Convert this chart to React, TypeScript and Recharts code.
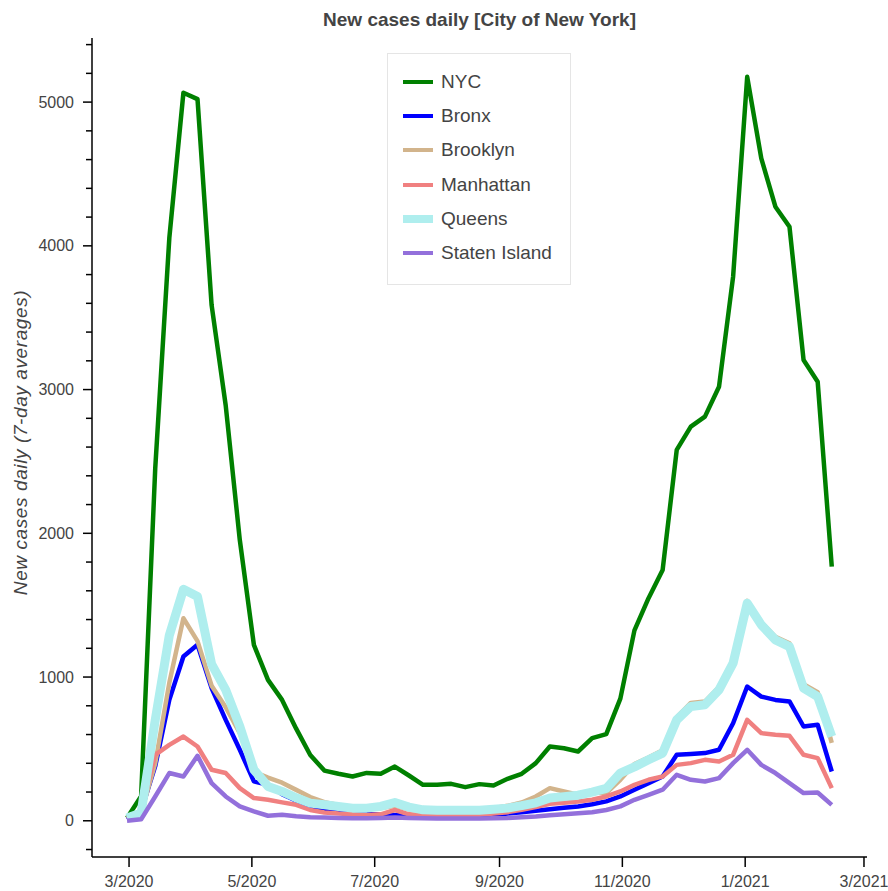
import React from 'react';
import { LineChart, Line, XAxis, YAxis, Legend } from 'recharts';

// weekly points, 7-day averages
const dates = [
  '2020-02-29', '2020-03-07', '2020-03-14', '2020-03-21', '2020-03-28', '2020-04-04', '2020-04-11',
  '2020-04-18', '2020-04-25', '2020-05-02', '2020-05-09', '2020-05-16', '2020-05-23', '2020-05-30',
  '2020-06-06', '2020-06-13', '2020-06-20', '2020-06-27', '2020-07-04', '2020-07-11', '2020-07-18',
  '2020-07-25', '2020-08-01', '2020-08-08', '2020-08-15', '2020-08-22', '2020-08-29', '2020-09-05',
  '2020-09-12', '2020-09-19', '2020-09-26', '2020-10-03', '2020-10-10', '2020-10-17', '2020-10-24',
  '2020-10-31', '2020-11-07', '2020-11-14', '2020-11-21', '2020-11-28', '2020-12-05', '2020-12-12',
  '2020-12-19', '2020-12-26', '2021-01-02', '2021-01-09', '2021-01-16', '2021-01-23', '2021-01-30',
  '2021-02-06', '2021-02-13',
];

const nyc = [
  20, 170, 2450, 4054, 5065, 5021, 3588, 2890, 1954, 1224, 980, 841, 641, 458, 349, 327, 308,
  333, 327, 377, 315, 250, 250, 257, 234, 255, 246, 292, 327, 401, 517, 505, 482, 575, 603, 850,
  1325, 1549, 1745, 2580, 2742, 2812, 3020, 3785, 5176, 4608, 4272, 4133, 3206, 3055, 1768,
];
const bronx = [
  10, 70, 380, 841, 1143, 1224, 923, 702, 494, 274, 250, 185, 140, 95, 68, 60, 50, 45, 45, 40,
  35, 30, 30, 30, 30, 32, 40, 50, 60, 70, 80, 90, 100, 115, 135, 169, 216, 262, 308, 459, 464,
  471, 494, 679, 934, 864, 841, 830, 656, 668, 343,
];
const brooklyn = [
  15, 55, 400, 960, 1409, 1250, 940, 790, 610, 340, 300, 265, 215, 165, 130, 110, 95, 88, 88,
  105, 80, 70, 68, 68, 70, 72, 88, 104, 127, 169, 227, 204, 181, 197, 193, 285, 395, 440, 490,
  720, 820, 830, 930, 1120, 1530, 1380, 1280, 1235, 950, 895, 542,
];
const manhattan = [
  15, 60, 459, 528, 586, 517, 355, 332, 227, 158, 146, 128, 111, 75, 58, 50, 45, 40, 45, 75, 45,
  40, 38, 38, 40, 42, 50, 60, 76, 95, 118, 126, 134, 146, 169, 204, 250, 285, 308, 389, 401, 424,
  412, 459, 702, 610, 598, 591, 459, 436, 227,
];
const queens = [
  20, 55, 700, 1290, 1610, 1560, 1090, 911, 656, 355, 239, 204, 160, 123, 111, 100, 88, 88, 100,
  127, 95, 76, 74, 74, 74, 74, 80, 88, 105, 125, 158, 168, 178, 200, 225, 332, 375, 424, 471, 702,
  795, 807, 911, 1097, 1514, 1363, 1259, 1212, 923, 864, 586,
];
const statenIsland = [
  0, 10, 169, 332, 308, 452, 262, 169, 100, 65, 35, 42, 32, 25, 22, 20, 18, 18, 20, 22, 20, 18,
  15, 15, 15, 15, 18, 20, 25, 30, 38, 45, 52, 60, 75, 100, 146, 181, 216, 320, 285, 273, 297, 401,
  494, 389, 332, 262, 193, 197, 111,
];

const monthTicks = ['2020-03-01', '2020-05-01', '2020-07-01', '2020-09-01', '2020-11-01', '2021-01-01', '2021-03-01'];
const yMajorStep = 1000;
const yMinorTicks = Array.from({ length: 29 }, (_, i) => -200 + i * 200);

const DAY = 86400000;
const toT = (s: string) => Date.parse(s + 'T00:00:00Z');
const origin = toT('2020-03-01');
const xDomain = [origin - 18.4 * DAY, origin + 366.5 * DAY];

const FONT = '"Liberation Sans", Arial, Helvetica, sans-serif';
const TEXT = '#444444';

const seriesMeta = [
  { key: 'NYC', values: nyc, color: '#008000', width: 4.5 },
  { key: 'Bronx', values: bronx, color: '#0000ff', width: 4.5 },
  { key: 'Brooklyn', values: brooklyn, color: '#d2b48c', width: 4.5 },
  { key: 'Manhattan', values: manhattan, color: '#f08080', width: 4.5 },
  { key: 'Queens', values: queens, color: '#afeeee', width: 9 },
  { key: 'Staten Island', values: statenIsland, color: '#9370db', width: 4.5 },
];

const data = dates.map((d, i) => {
  const row: any = { t: toT(d) };
  seriesMeta.forEach((s) => {
    row[s.key] = s.values[i];
  });
  return row;
});

const fmtMonth = (t: number) => {
  const d = new Date(t);
  return `${d.getUTCMonth() + 1}/${d.getUTCFullYear()}`;
};

const YTick = (props: any) => {
  const { x, y, payload } = props;
  const major = payload.value % yMajorStep === 0;
  return (
    <g>
      <line x1={x} x2={x - (major ? 9 : 6)} y1={y} y2={y} stroke="#000" strokeWidth={1.5} />
      {major && (
        <text x={x - 18} y={y} dy="0.35em" textAnchor="end" fill={TEXT} fontSize={16} fontFamily={FONT}>
          {payload.value}
        </text>
      )}
    </g>
  );
};

const XTick = (props: any) => {
  const { x, y, payload } = props;
  return (
    <g>
      <line x1={x} x2={x} y1={y} y2={y + 10} stroke="#000" strokeWidth={1.5} />
      <text x={x} y={y + 30} textAnchor="middle" fill={TEXT} fontSize={16} fontFamily={FONT}>
        {fmtMonth(payload.value)}
      </text>
    </g>
  );
};

const YLabel = (props: any) => {
  const { viewBox } = props;
  const cy = viewBox.y + viewBox.height / 2 - 5;
  return (
    <text
      x={20}
      y={cy}
      dy="0.35em"
      transform={`rotate(-90, 20, ${cy})`}
      textAnchor="middle"
      fill={TEXT}
      fontSize={19}
      fontStyle="italic"
      fontFamily={FONT}
      letterSpacing={0.6}
    >
      New cases daily (7-day averages)
    </text>
  );
};

const renderLegend = () => (
  <div
    style={{
      boxSizing: 'border-box',
      width: 184,
      height: 232,
      border: '1px solid #e5e5e5',
      background: '#fff',
      padding: '11px 0 0 15px',
      fontFamily: FONT,
    }}
  >
    {seriesMeta.map((s) => (
      <div key={s.key} style={{ height: 34.2, display: 'flex', alignItems: 'center' }}>
        <svg width={30} height={12} style={{ display: 'block', marginRight: 8 }}>
          <line x1={0} x2={30} y1={6} y2={6} stroke={s.color} strokeWidth={s.width === 9 ? 8 : 4} />
        </svg>
        <span style={{ fontSize: 19, color: TEXT, lineHeight: '22px' }}>{s.key}</span>
      </div>
    ))}
  </div>
);

export default function App() {
  return (
    <div style={{ position: 'absolute', left: 0, top: 0, width: 888, height: 891, background: '#fff' }}>
      <div
        style={{
          position: 'absolute',
          left: 92,
          top: 9,
          width: 775,
          textAlign: 'center',
          fontFamily: FONT,
          fontWeight: 'bold',
          fontSize: 19,
          lineHeight: '22px',
          color: TEXT,
          zIndex: 2,
        }}
      >
        New cases daily [City of New York]
      </div>
      <LineChart width={888} height={891} data={data} margin={{ top: 38, right: 21, bottom: 4, left: 32 }}>
        <XAxis
          dataKey="t"
          type="number"
          scale="linear"
          domain={xDomain}
          allowDataOverflow
          ticks={monthTicks.map(toT)}
          interval={0}
          height={30}
          tickSize={0}
          tickMargin={0}
          tickLine={false}
          axisLine={{ stroke: '#000', strokeWidth: 1.5 }}
          tick={<XTick />}
        />
        <XAxis xAxisId="top" orientation="top" dataKey="t" type="number" domain={xDomain} height={0} tick={false} tickLine={false} axisLine={{ stroke: '#e5e5e5' }} />
        <YAxis
          type="number"
          domain={[-252, 5446]}
          allowDataOverflow
          ticks={yMinorTicks}
          interval={0}
          width={60}
          tickSize={0}
          tickMargin={0}
          tickLine={false}
          axisLine={{ stroke: '#000', strokeWidth: 1.5 }}
          tick={<YTick />}
          label={<YLabel />}
        />
        <YAxis yAxisId="right" orientation="right" domain={[-252, 5446]} width={0} tick={false} tickLine={false} axisLine={{ stroke: '#e5e5e5' }} />
        <Legend
          layout="vertical"
          align="center"
          verticalAlign="middle"
          content={renderLegend}
          wrapperStyle={{ left: 387, top: 53, width: 184, height: 232 }}
        />
        {seriesMeta.map((s) => (
          <Line
            key={s.key}
            type="linear"
            dataKey={s.key}
            stroke={s.color}
            strokeWidth={s.width}
            strokeLinejoin="round"
            dot={false}
            activeDot={false}
            isAnimationActive={false}
          />
        ))}
      </LineChart>
    </div>
  );
}
